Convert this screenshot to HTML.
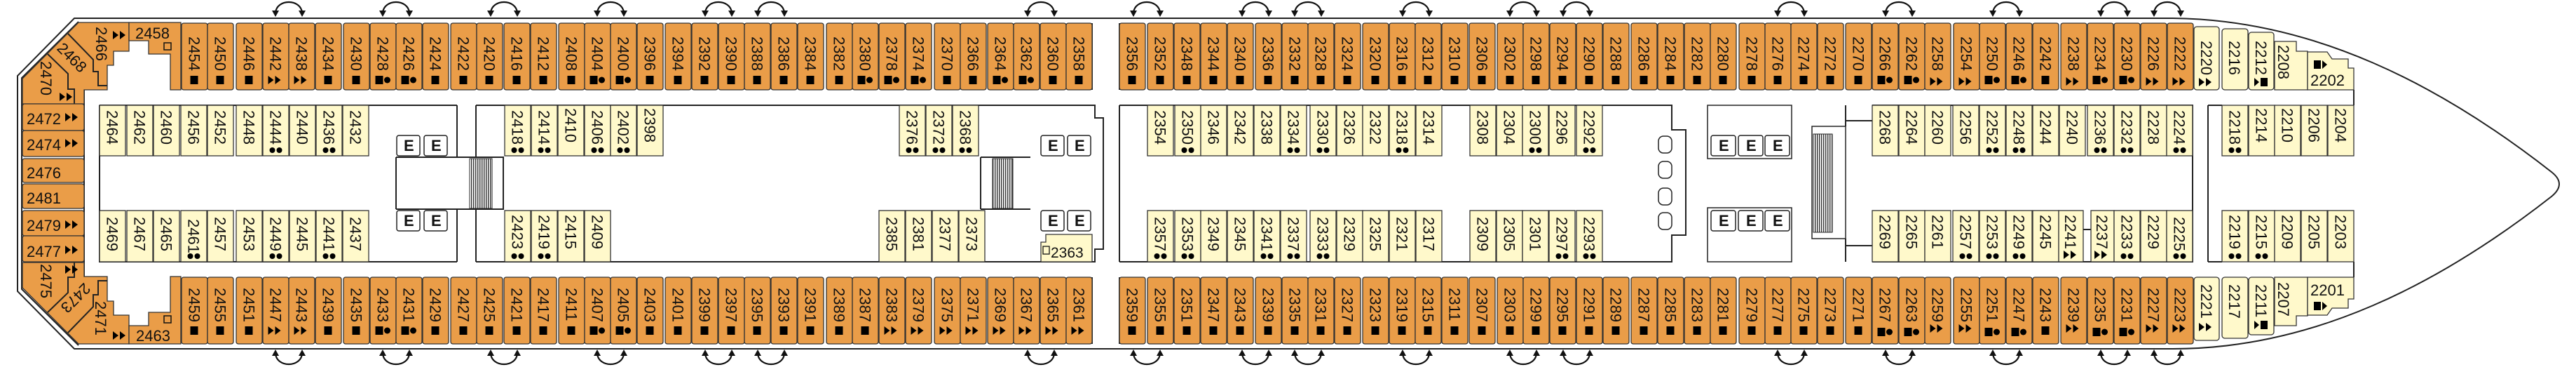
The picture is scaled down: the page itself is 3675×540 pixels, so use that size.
<!DOCTYPE html>
<html><head><meta charset="utf-8"><style>
html,body{margin:0;padding:0;background:#fff;}
svg{display:block;}
text{font-family:"Liberation Sans","DejaVu Sans",sans-serif;font-size:22px;fill:#111;}
.o{fill:#EA9D48;stroke:#333;stroke-width:1.3;}
.y{fill:#FFF9CB;stroke:#333;stroke-width:1.3;}
.ln{fill:none;stroke:#222;stroke-width:2;}
.eb{fill:#fff;stroke:#222;stroke-width:1.5;}
</style></head><body>
<svg width="3675" height="540" viewBox="0 0 3675 540" xmlns="http://www.w3.org/2000/svg">
<defs>
<rect id="ot" class="o" x="0" y="33" width="37" height="95" rx="3"/>
<rect id="ob" class="o" x="0" y="395" width="37" height="95" rx="3"/>
<rect id="yt" class="y" x="0" y="150" width="37" height="72"/>
<rect id="yb" class="y" x="0" y="300" width="37" height="73"/>
<g id="s"><rect x="-6" y="-6" width="11" height="12"/></g>
<g id="sd"><rect x="-11" y="-6" width="11" height="12"/><circle cx="6" cy="0" r="4.5"/></g>
<g id="t"><polygon points="-11,-6 -3,0 -11,6"/><polygon points="-1,-6 7,0 -1,6"/></g>
<g id="d"><circle cx="-5" cy="0" r="4"/><circle cx="5" cy="0" r="4"/></g>
<g id="ts"><polygon points="-10,-6 -3,0 -10,6"/><rect x="-1" y="-6" width="10" height="12"/></g>
<g id="st"><rect x="-9" y="-6" width="10" height="12"/><polygon points="3,-6 10,0 3,6"/></g>
<g id="aT"><path d="M-19,18 C-17,-2 17,-2 19,18" fill="none" stroke="#111" stroke-width="2.2"/><polygon points="-24,15 -14,15 -19,24"/><polygon points="14,15 24,15 19,24"/></g>
<pattern id="hatch" width="3" height="10" patternUnits="userSpaceOnUse"><rect width="3" height="10" fill="#fff"/><rect width="1.4" height="10" fill="#333"/></pattern>
</defs>

<!-- hull -->
<path class="ln" stroke-width="2.5" d="M3100,26 H106 L25,108 V415 L106,497 H3100"/>
<path class="ln" stroke-width="2.5" d="M3100,26 C3300,28 3480,120 3640,245 Q3662,262 3640,280 C3480,405 3300,497 3100,497"/>
<path class="ln" stroke-width="1" d="M112,31 L31,111 V412 L112,492"/>

<!-- connecting arrows -->
<g fill="#111">
<use href="#aT" transform="translate(412,0)"/><use href="#aT" transform="translate(565,0)"/><use href="#aT" transform="translate(719,0)"/><use href="#aT" transform="translate(871,0)"/><use href="#aT" transform="translate(1025,0)"/><use href="#aT" transform="translate(1100,0)"/><use href="#aT" transform="translate(1485,0)"/><use href="#aT" transform="translate(1636,0)"/><use href="#aT" transform="translate(1791,0)"/><use href="#aT" transform="translate(1866,0)"/><use href="#aT" transform="translate(2020,0)"/><use href="#aT" transform="translate(2173,0)"/><use href="#aT" transform="translate(2249,0)"/><use href="#aT" transform="translate(2555,0)"/><use href="#aT" transform="translate(2709,0)"/><use href="#aT" transform="translate(2862,0)"/><use href="#aT" transform="translate(3016,0)"/><use href="#aT" transform="translate(3092,0)"/>
<use href="#aT" transform="translate(412,522) scale(1,-1)"/><use href="#aT" transform="translate(565,522) scale(1,-1)"/><use href="#aT" transform="translate(719,522) scale(1,-1)"/><use href="#aT" transform="translate(871,522) scale(1,-1)"/><use href="#aT" transform="translate(1025,522) scale(1,-1)"/><use href="#aT" transform="translate(1100,522) scale(1,-1)"/><use href="#aT" transform="translate(1485,522) scale(1,-1)"/><use href="#aT" transform="translate(1636,522) scale(1,-1)"/><use href="#aT" transform="translate(1791,522) scale(1,-1)"/><use href="#aT" transform="translate(1866,522) scale(1,-1)"/><use href="#aT" transform="translate(2020,522) scale(1,-1)"/><use href="#aT" transform="translate(2173,522) scale(1,-1)"/><use href="#aT" transform="translate(2249,522) scale(1,-1)"/><use href="#aT" transform="translate(2555,522) scale(1,-1)"/><use href="#aT" transform="translate(2709,522) scale(1,-1)"/><use href="#aT" transform="translate(2862,522) scale(1,-1)"/><use href="#aT" transform="translate(3016,522) scale(1,-1)"/><use href="#aT" transform="translate(3092,522) scale(1,-1)"/>
</g>

<!-- stair passage lines top/bottom -->
<path class="ln" stroke-width="1.3" d="M1558,33 V128 M1597,33 V128 M1558,395 V490 M1597,395 V490"/>

<!-- interior walls -->
<path class="ln" d="M120,128 V395 M142,150 H652 M142,150 V373 H652 M652,150 V224 M652,298 V373 M565,224 H718 M565,298 H718 M565,224 V298 M679,150 V224 M679,298 V373 M679,150 H1400 M679,373 H1400 M700,224 H718 V298 H700 M1399,224 V298 M1399,224 H1470 M1399,298 H1470 M1400,150 H1562 V168 H1574 V355 H1562 V373 H1400 M1597,150 V373 M1597,150 H2385 V185 H2405 V335 H2385 V373 H1597 M2633,150 V180 M2633,340 V373 M2633,172 H2671 M2633,350 H2671 M2671,150 H3128 V373 H2671 M3150,150 V373 M3150,150 H3170 M3150,373 H3170 M3358,128 V150 M3358,373 V395"/>
<rect class="eb" x="2436" y="150" width="120" height="76"/>
<rect class="eb" x="2436" y="296" width="120" height="77"/>
<rect class="eb" x="2585" y="180" width="48" height="160"/>
<rect x="670" y="226" width="32" height="71" fill="url(#hatch)" stroke="#222"/>
<rect x="1416" y="226" width="29" height="71" fill="url(#hatch)" stroke="#222"/>
<rect x="2587" y="191" width="27" height="140" fill="url(#hatch)" stroke="#222"/>
<!-- toilets -->
<g class="eb"><rect x="2366" y="194" width="19" height="24" rx="7"/><rect x="2366" y="230" width="19" height="24" rx="7"/><rect x="2366" y="268" width="19" height="24" rx="7"/><rect x="2366" y="303" width="19" height="24" rx="7"/></g>
<!-- elevators -->
<g>
<rect class="eb" x="566" y="193" width="33" height="29" rx="3"/><rect class="eb" x="605" y="193" width="33" height="29" rx="3"/><rect class="eb" x="566" y="300" width="33" height="29" rx="3"/><rect class="eb" x="605" y="300" width="33" height="29" rx="3"/>
<rect class="eb" x="1485" y="193" width="33" height="29" rx="3"/><rect class="eb" x="1523" y="193" width="33" height="29" rx="3"/><rect class="eb" x="1485" y="300" width="33" height="29" rx="3"/><rect class="eb" x="1523" y="300" width="33" height="29" rx="3"/>
<rect class="eb" x="2441" y="193" width="35" height="29" rx="3"/><rect class="eb" x="2480" y="193" width="35" height="29" rx="3"/><rect class="eb" x="2518" y="193" width="35" height="29" rx="3"/><rect class="eb" x="2441" y="300" width="35" height="29" rx="3"/><rect class="eb" x="2480" y="300" width="35" height="29" rx="3"/><rect class="eb" x="2518" y="300" width="35" height="29" rx="3"/>
</g>
<g style="font-size:18px;font-weight:bold">
<text x="576" y="215">E</text><text x="615" y="215">E</text><text x="576" y="322">E</text><text x="615" y="322">E</text>
<text x="1495" y="215">E</text><text x="1533" y="215">E</text><text x="1495" y="322">E</text><text x="1533" y="322">E</text>
<text x="2452" y="215">E</text><text x="2491" y="215">E</text><text x="2529" y="215">E</text><text x="2452" y="322">E</text><text x="2491" y="322">E</text><text x="2529" y="322">E</text>
</g>

<!-- aft corner top -->
<g>
<path class="o" d="M32,148 L32,112 L112,32 L184,32 L184,73 L162,73 L162,93 L153,93 L153,128 L120,128 L120,148 Z"/>
<path class="o" d="M184,32 L258,32 L258,128 L243,128 L243,77 L212,77 L212,58 L184,58 Z"/>
<path class="ln" stroke-width="1.3" d="M68,77 L97,105 L97,127 L106,127 L106,148 M97,48 L133,85 L133,102 L140,102 L140,122 L153,122"/>
</g>
<g transform="translate(0,522) scale(1,-1)">
<path class="o" d="M32,148 L32,112 L112,32 L184,32 L184,73 L162,73 L162,93 L153,93 L153,128 L120,128 L120,148 Z"/>
<path class="o" d="M184,32 L258,32 L258,128 L243,128 L243,77 L212,77 L212,58 L184,58 Z"/>
<path class="ln" stroke-width="1.3" d="M68,77 L97,105 L97,127 L106,127 L106,148 M97,48 L133,85 L133,102 L140,102 L140,122 L153,122"/>
</g>
<text transform="translate(58 87)rotate(90)">2470</text><use href="#t" x="96" y="138"/>
<text transform="translate(80 70)rotate(45)">2468</text>
<text transform="translate(137 38)rotate(90)">2466</text><use href="#t" x="172" y="50"/>
<text x="193" y="55">2458</text><rect x="234" y="61" width="10" height="10" fill="none" stroke="#111" stroke-width="1.5"/>
<text transform="translate(58 376)rotate(90)">2475</text><use href="#t" x="104" y="384"/>
<text transform="translate(120 402)rotate(135)">2473</text>
<text transform="translate(136 429)rotate(90)">2471</text><use href="#t" x="172" y="478"/>
<text x="194" y="486">2463</text><rect x="234" y="450" width="10" height="10" fill="none" stroke="#111" stroke-width="1.5"/>

<!-- left column -->
<rect class="o" x="32" y="148" width="88" height="38" rx="3"/><rect class="o" x="32" y="186" width="88" height="37" rx="3"/><rect class="o" x="32" y="226" width="88" height="34" rx="3"/><rect class="o" x="32" y="262" width="88" height="35" rx="3"/><rect class="o" x="32" y="300" width="88" height="36" rx="3"/><rect class="o" x="32" y="336" width="88" height="37" rx="3"/>
<text x="38" y="177">2472</text><use href="#t" x="104" y="167"/>
<text x="38" y="214">2474</text><use href="#t" x="104" y="204"/>
<text x="38" y="254">2476</text>
<text x="38" y="290">2481</text>
<text x="38" y="329">2479</text><use href="#t" x="104" y="320"/>
<text x="38" y="366">2477</text><use href="#t" x="104" y="356"/>

<!-- TOP ORANGE -->
<g transform="translate(259)"><use href="#ot"/><text transform="translate(10.5 52)rotate(90)">2454</text><use href="#s" x="18.5" y="114"/></g>
<g transform="translate(296)"><use href="#ot"/><text transform="translate(10.5 52)rotate(90)">2450</text><use href="#s" x="18.5" y="114"/></g>
<g transform="translate(337)"><use href="#ot"/><text transform="translate(10.5 52)rotate(90)">2446</text><use href="#s" x="18.5" y="114"/></g>
<g transform="translate(375)"><use href="#ot"/><text transform="translate(10.5 52)rotate(90)">2442</text><use href="#t" x="18.5" y="114"/></g>
<g transform="translate(412)"><use href="#ot"/><text transform="translate(10.5 52)rotate(90)">2438</text><use href="#t" x="18.5" y="114"/></g>
<g transform="translate(450)"><use href="#ot"/><text transform="translate(10.5 52)rotate(90)">2434</text><use href="#s" x="18.5" y="114"/></g>
<g transform="translate(490)"><use href="#ot"/><text transform="translate(10.5 52)rotate(90)">2430</text><use href="#s" x="18.5" y="114"/></g>
<g transform="translate(528)"><use href="#ot"/><text transform="translate(10.5 52)rotate(90)">2428</text><use href="#sd" x="18.5" y="114"/></g>
<g transform="translate(565)"><use href="#ot"/><text transform="translate(10.5 52)rotate(90)">2426</text><use href="#sd" x="18.5" y="114"/></g>
<g transform="translate(603)"><use href="#ot"/><text transform="translate(10.5 52)rotate(90)">2424</text><use href="#s" x="18.5" y="114"/></g>
<g transform="translate(643)"><use href="#ot"/><text transform="translate(10.5 52)rotate(90)">2422</text><use href="#s" x="18.5" y="114"/></g>
<g transform="translate(680)"><use href="#ot"/><text transform="translate(10.5 52)rotate(90)">2420</text><use href="#s" x="18.5" y="114"/></g>
<g transform="translate(719)"><use href="#ot"/><text transform="translate(10.5 52)rotate(90)">2416</text><use href="#s" x="18.5" y="114"/></g>
<g transform="translate(757)"><use href="#ot"/><text transform="translate(10.5 52)rotate(90)">2412</text><use href="#s" x="18.5" y="114"/></g>
<g transform="translate(797)"><use href="#ot"/><text transform="translate(10.5 52)rotate(90)">2408</text><use href="#s" x="18.5" y="114"/></g>
<g transform="translate(834)"><use href="#ot"/><text transform="translate(10.5 52)rotate(90)">2404</text><use href="#sd" x="18.5" y="114"/></g>
<g transform="translate(871)"><use href="#ot"/><text transform="translate(10.5 52)rotate(90)">2400</text><use href="#sd" x="18.5" y="114"/></g>
<g transform="translate(909)"><use href="#ot"/><text transform="translate(10.5 52)rotate(90)">2396</text><use href="#s" x="18.5" y="114"/></g>
<g transform="translate(949)"><use href="#ot"/><text transform="translate(10.5 52)rotate(90)">2394</text><use href="#s" x="18.5" y="114"/></g>
<g transform="translate(987)"><use href="#ot"/><text transform="translate(10.5 52)rotate(90)">2392</text><use href="#s" x="18.5" y="114"/></g>
<g transform="translate(1025)"><use href="#ot"/><text transform="translate(10.5 52)rotate(90)">2390</text><use href="#s" x="18.5" y="114"/></g>
<g transform="translate(1062)"><use href="#ot"/><text transform="translate(10.5 52)rotate(90)">2388</text><use href="#s" x="18.5" y="114"/></g>
<g transform="translate(1100)"><use href="#ot"/><text transform="translate(10.5 52)rotate(90)">2386</text><use href="#s" x="18.5" y="114"/></g>
<g transform="translate(1138)"><use href="#ot"/><text transform="translate(10.5 52)rotate(90)">2384</text><use href="#s" x="18.5" y="114"/></g>
<g transform="translate(1179)"><use href="#ot"/><text transform="translate(10.5 52)rotate(90)">2382</text><use href="#s" x="18.5" y="114"/></g>
<g transform="translate(1216)"><use href="#ot"/><text transform="translate(10.5 52)rotate(90)">2380</text><use href="#sd" x="18.5" y="114"/></g>
<g transform="translate(1254)"><use href="#ot"/><text transform="translate(10.5 52)rotate(90)">2378</text><use href="#sd" x="18.5" y="114"/></g>
<g transform="translate(1292)"><use href="#ot"/><text transform="translate(10.5 52)rotate(90)">2374</text><use href="#sd" x="18.5" y="114"/></g>
<g transform="translate(1333)"><use href="#ot"/><text transform="translate(10.5 52)rotate(90)">2370</text><use href="#s" x="18.5" y="114"/></g>
<g transform="translate(1370)"><use href="#ot"/><text transform="translate(10.5 52)rotate(90)">2366</text><use href="#s" x="18.5" y="114"/></g>
<g transform="translate(1409)"><use href="#ot"/><text transform="translate(10.5 52)rotate(90)">2364</text><use href="#sd" x="18.5" y="114"/></g>
<g transform="translate(1446)"><use href="#ot"/><text transform="translate(10.5 52)rotate(90)">2362</text><use href="#sd" x="18.5" y="114"/></g>
<g transform="translate(1484)"><use href="#ot"/><text transform="translate(10.5 52)rotate(90)">2360</text><use href="#s" x="18.5" y="114"/></g>
<g transform="translate(1521)"><use href="#ot"/><text transform="translate(10.5 52)rotate(90)">2358</text><use href="#s" x="18.5" y="114"/></g>
<g transform="translate(1597)"><use href="#ot"/><text transform="translate(10.5 52)rotate(90)">2356</text><use href="#s" x="18.5" y="114"/></g>
<g transform="translate(1637)"><use href="#ot"/><text transform="translate(10.5 52)rotate(90)">2352</text><use href="#s" x="18.5" y="114"/></g>
<g transform="translate(1675)"><use href="#ot"/><text transform="translate(10.5 52)rotate(90)">2348</text><use href="#s" x="18.5" y="114"/></g>
<g transform="translate(1713)"><use href="#ot"/><text transform="translate(10.5 52)rotate(90)">2344</text><use href="#s" x="18.5" y="114"/></g>
<g transform="translate(1751)"><use href="#ot"/><text transform="translate(10.5 52)rotate(90)">2340</text><use href="#s" x="18.5" y="114"/></g>
<g transform="translate(1791)"><use href="#ot"/><text transform="translate(10.5 52)rotate(90)">2336</text><use href="#s" x="18.5" y="114"/></g>
<g transform="translate(1829)"><use href="#ot"/><text transform="translate(10.5 52)rotate(90)">2332</text><use href="#s" x="18.5" y="114"/></g>
<g transform="translate(1866)"><use href="#ot"/><text transform="translate(10.5 52)rotate(90)">2328</text><use href="#s" x="18.5" y="114"/></g>
<g transform="translate(1904)"><use href="#ot"/><text transform="translate(10.5 52)rotate(90)">2324</text><use href="#s" x="18.5" y="114"/></g>
<g transform="translate(1944)"><use href="#ot"/><text transform="translate(10.5 52)rotate(90)">2320</text><use href="#s" x="18.5" y="114"/></g>
<g transform="translate(1982)"><use href="#ot"/><text transform="translate(10.5 52)rotate(90)">2316</text><use href="#s" x="18.5" y="114"/></g>
<g transform="translate(2019)"><use href="#ot"/><text transform="translate(10.5 52)rotate(90)">2312</text><use href="#s" x="18.5" y="114"/></g>
<g transform="translate(2057)"><use href="#ot"/><text transform="translate(10.5 52)rotate(90)">2310</text><use href="#s" x="18.5" y="114"/></g>
<g transform="translate(2096)"><use href="#ot"/><text transform="translate(10.5 52)rotate(90)">2306</text><use href="#s" x="18.5" y="114"/></g>
<g transform="translate(2136)"><use href="#ot"/><text transform="translate(10.5 52)rotate(90)">2302</text><use href="#s" x="18.5" y="114"/></g>
<g transform="translate(2173)"><use href="#ot"/><text transform="translate(10.5 52)rotate(90)">2298</text><use href="#s" x="18.5" y="114"/></g>
<g transform="translate(2211)"><use href="#ot"/><text transform="translate(10.5 52)rotate(90)">2294</text><use href="#s" x="18.5" y="114"/></g>
<g transform="translate(2249)"><use href="#ot"/><text transform="translate(10.5 52)rotate(90)">2290</text><use href="#s" x="18.5" y="114"/></g>
<g transform="translate(2287)"><use href="#ot"/><text transform="translate(10.5 52)rotate(90)">2288</text><use href="#s" x="18.5" y="114"/></g>
<g transform="translate(2327)"><use href="#ot"/><text transform="translate(10.5 52)rotate(90)">2286</text><use href="#s" x="18.5" y="114"/></g>
<g transform="translate(2365)"><use href="#ot"/><text transform="translate(10.5 52)rotate(90)">2284</text><use href="#s" x="18.5" y="114"/></g>
<g transform="translate(2403)"><use href="#ot"/><text transform="translate(10.5 52)rotate(90)">2282</text><use href="#s" x="18.5" y="114"/></g>
<g transform="translate(2440)"><use href="#ot"/><text transform="translate(10.5 52)rotate(90)">2280</text><use href="#s" x="18.5" y="114"/></g>
<g transform="translate(2481)"><use href="#ot"/><text transform="translate(10.5 52)rotate(90)">2278</text><use href="#s" x="18.5" y="114"/></g>
<g transform="translate(2518)"><use href="#ot"/><text transform="translate(10.5 52)rotate(90)">2276</text><use href="#s" x="18.5" y="114"/></g>
<g transform="translate(2555)"><use href="#ot"/><text transform="translate(10.5 52)rotate(90)">2274</text><use href="#s" x="18.5" y="114"/></g>
<g transform="translate(2593)"><use href="#ot"/><text transform="translate(10.5 52)rotate(90)">2272</text><use href="#s" x="18.5" y="114"/></g>
<g transform="translate(2633)"><use href="#ot"/><text transform="translate(10.5 52)rotate(90)">2270</text><use href="#s" x="18.5" y="114"/></g>
<g transform="translate(2671)"><use href="#ot"/><text transform="translate(10.5 52)rotate(90)">2266</text><use href="#sd" x="18.5" y="114"/></g>
<g transform="translate(2709)"><use href="#ot"/><text transform="translate(10.5 52)rotate(90)">2262</text><use href="#sd" x="18.5" y="114"/></g>
<g transform="translate(2746)"><use href="#ot"/><text transform="translate(10.5 52)rotate(90)">2258</text><use href="#t" x="18.5" y="116"/></g>
<g transform="translate(2787)"><use href="#ot"/><text transform="translate(10.5 52)rotate(90)">2254</text><use href="#t" x="18.5" y="116"/></g>
<g transform="translate(2824)"><use href="#ot"/><text transform="translate(10.5 52)rotate(90)">2250</text><use href="#sd" x="18.5" y="114"/></g>
<g transform="translate(2862)"><use href="#ot"/><text transform="translate(10.5 52)rotate(90)">2246</text><use href="#sd" x="18.5" y="114"/></g>
<g transform="translate(2900)"><use href="#ot"/><text transform="translate(10.5 52)rotate(90)">2242</text><use href="#s" x="18.5" y="114"/></g>
<g transform="translate(2940)"><use href="#ot"/><text transform="translate(10.5 52)rotate(90)">2238</text><use href="#t" x="18.5" y="116"/></g>
<g transform="translate(2978)"><use href="#ot"/><text transform="translate(10.5 52)rotate(90)">2234</text><use href="#sd" x="18.5" y="114"/></g>
<g transform="translate(3016)"><use href="#ot"/><text transform="translate(10.5 52)rotate(90)">2230</text><use href="#sd" x="18.5" y="114"/></g>
<g transform="translate(3054)"><use href="#ot"/><text transform="translate(10.5 52)rotate(90)">2226</text><use href="#t" x="18.5" y="116"/></g>
<g transform="translate(3092)"><use href="#ot"/><text transform="translate(10.5 52)rotate(90)">2222</text><use href="#t" x="18.5" y="116"/></g>

<!-- BOTTOM ORANGE -->
<g transform="translate(259)"><use href="#ob"/><text transform="translate(10.5 410)rotate(90)">2459</text><use href="#s" x="18.5" y="471"/></g>
<g transform="translate(296)"><use href="#ob"/><text transform="translate(10.5 410)rotate(90)">2455</text><use href="#s" x="18.5" y="471"/></g>
<g transform="translate(337)"><use href="#ob"/><text transform="translate(10.5 410)rotate(90)">2451</text><use href="#s" x="18.5" y="471"/></g>
<g transform="translate(375)"><use href="#ob"/><text transform="translate(10.5 410)rotate(90)">2447</text><use href="#t" x="18.5" y="471"/></g>
<g transform="translate(412)"><use href="#ob"/><text transform="translate(10.5 410)rotate(90)">2443</text><use href="#t" x="18.5" y="471"/></g>
<g transform="translate(450)"><use href="#ob"/><text transform="translate(10.5 410)rotate(90)">2439</text><use href="#s" x="18.5" y="471"/></g>
<g transform="translate(490)"><use href="#ob"/><text transform="translate(10.5 410)rotate(90)">2435</text><use href="#s" x="18.5" y="471"/></g>
<g transform="translate(528)"><use href="#ob"/><text transform="translate(10.5 410)rotate(90)">2433</text><use href="#sd" x="18.5" y="471"/></g>
<g transform="translate(565)"><use href="#ob"/><text transform="translate(10.5 410)rotate(90)">2431</text><use href="#sd" x="18.5" y="471"/></g>
<g transform="translate(603)"><use href="#ob"/><text transform="translate(10.5 410)rotate(90)">2429</text><use href="#s" x="18.5" y="471"/></g>
<g transform="translate(643)"><use href="#ob"/><text transform="translate(10.5 410)rotate(90)">2427</text><use href="#s" x="18.5" y="471"/></g>
<g transform="translate(680)"><use href="#ob"/><text transform="translate(10.5 410)rotate(90)">2425</text><use href="#s" x="18.5" y="471"/></g>
<g transform="translate(719)"><use href="#ob"/><text transform="translate(10.5 410)rotate(90)">2421</text><use href="#s" x="18.5" y="471"/></g>
<g transform="translate(757)"><use href="#ob"/><text transform="translate(10.5 410)rotate(90)">2417</text><use href="#s" x="18.5" y="471"/></g>
<g transform="translate(797)"><use href="#ob"/><text transform="translate(10.5 410)rotate(90)">2411</text><use href="#s" x="18.5" y="471"/></g>
<g transform="translate(834)"><use href="#ob"/><text transform="translate(10.5 410)rotate(90)">2407</text><use href="#sd" x="18.5" y="471"/></g>
<g transform="translate(871)"><use href="#ob"/><text transform="translate(10.5 410)rotate(90)">2405</text><use href="#sd" x="18.5" y="471"/></g>
<g transform="translate(909)"><use href="#ob"/><text transform="translate(10.5 410)rotate(90)">2403</text><use href="#s" x="18.5" y="471"/></g>
<g transform="translate(949)"><use href="#ob"/><text transform="translate(10.5 410)rotate(90)">2401</text><use href="#s" x="18.5" y="471"/></g>
<g transform="translate(987)"><use href="#ob"/><text transform="translate(10.5 410)rotate(90)">2399</text><use href="#s" x="18.5" y="471"/></g>
<g transform="translate(1025)"><use href="#ob"/><text transform="translate(10.5 410)rotate(90)">2397</text><use href="#s" x="18.5" y="471"/></g>
<g transform="translate(1062)"><use href="#ob"/><text transform="translate(10.5 410)rotate(90)">2395</text><use href="#s" x="18.5" y="471"/></g>
<g transform="translate(1100)"><use href="#ob"/><text transform="translate(10.5 410)rotate(90)">2393</text><use href="#s" x="18.5" y="471"/></g>
<g transform="translate(1138)"><use href="#ob"/><text transform="translate(10.5 410)rotate(90)">2391</text><use href="#s" x="18.5" y="471"/></g>
<g transform="translate(1179)"><use href="#ob"/><text transform="translate(10.5 410)rotate(90)">2389</text><use href="#s" x="18.5" y="471"/></g>
<g transform="translate(1216)"><use href="#ob"/><text transform="translate(10.5 410)rotate(90)">2387</text><use href="#s" x="18.5" y="471"/></g>
<g transform="translate(1254)"><use href="#ob"/><text transform="translate(10.5 410)rotate(90)">2383</text><use href="#t" x="18.5" y="471"/></g>
<g transform="translate(1292)"><use href="#ob"/><text transform="translate(10.5 410)rotate(90)">2379</text><use href="#t" x="18.5" y="471"/></g>
<g transform="translate(1333)"><use href="#ob"/><text transform="translate(10.5 410)rotate(90)">2375</text><use href="#t" x="18.5" y="471"/></g>
<g transform="translate(1370)"><use href="#ob"/><text transform="translate(10.5 410)rotate(90)">2371</text><use href="#t" x="18.5" y="471"/></g>
<g transform="translate(1409)"><use href="#ob"/><text transform="translate(10.5 410)rotate(90)">2369</text><use href="#t" x="18.5" y="471"/></g>
<g transform="translate(1446)"><use href="#ob"/><text transform="translate(10.5 410)rotate(90)">2367</text><use href="#t" x="18.5" y="471"/></g>
<g transform="translate(1484)"><use href="#ob"/><text transform="translate(10.5 410)rotate(90)">2365</text><use href="#t" x="18.5" y="471"/></g>
<g transform="translate(1521)"><use href="#ob"/><text transform="translate(10.5 410)rotate(90)">2361</text><use href="#t" x="18.5" y="471"/></g>
<g transform="translate(1597)"><use href="#ob"/><text transform="translate(10.5 410)rotate(90)">2359</text><use href="#s" x="18.5" y="471"/></g>
<g transform="translate(1637)"><use href="#ob"/><text transform="translate(10.5 410)rotate(90)">2355</text><use href="#s" x="18.5" y="471"/></g>
<g transform="translate(1675)"><use href="#ob"/><text transform="translate(10.5 410)rotate(90)">2351</text><use href="#s" x="18.5" y="471"/></g>
<g transform="translate(1713)"><use href="#ob"/><text transform="translate(10.5 410)rotate(90)">2347</text><use href="#s" x="18.5" y="471"/></g>
<g transform="translate(1751)"><use href="#ob"/><text transform="translate(10.5 410)rotate(90)">2343</text><use href="#s" x="18.5" y="471"/></g>
<g transform="translate(1791)"><use href="#ob"/><text transform="translate(10.5 410)rotate(90)">2339</text><use href="#s" x="18.5" y="471"/></g>
<g transform="translate(1829)"><use href="#ob"/><text transform="translate(10.5 410)rotate(90)">2335</text><use href="#s" x="18.5" y="471"/></g>
<g transform="translate(1866)"><use href="#ob"/><text transform="translate(10.5 410)rotate(90)">2331</text><use href="#s" x="18.5" y="471"/></g>
<g transform="translate(1904)"><use href="#ob"/><text transform="translate(10.5 410)rotate(90)">2327</text><use href="#s" x="18.5" y="471"/></g>
<g transform="translate(1944)"><use href="#ob"/><text transform="translate(10.5 410)rotate(90)">2323</text><use href="#s" x="18.5" y="471"/></g>
<g transform="translate(1982)"><use href="#ob"/><text transform="translate(10.5 410)rotate(90)">2319</text><use href="#s" x="18.5" y="471"/></g>
<g transform="translate(2019)"><use href="#ob"/><text transform="translate(10.5 410)rotate(90)">2315</text><use href="#s" x="18.5" y="471"/></g>
<g transform="translate(2057)"><use href="#ob"/><text transform="translate(10.5 410)rotate(90)">2311</text><use href="#s" x="18.5" y="471"/></g>
<g transform="translate(2096)"><use href="#ob"/><text transform="translate(10.5 410)rotate(90)">2307</text><use href="#s" x="18.5" y="471"/></g>
<g transform="translate(2136)"><use href="#ob"/><text transform="translate(10.5 410)rotate(90)">2303</text><use href="#s" x="18.5" y="471"/></g>
<g transform="translate(2173)"><use href="#ob"/><text transform="translate(10.5 410)rotate(90)">2299</text><use href="#s" x="18.5" y="471"/></g>
<g transform="translate(2211)"><use href="#ob"/><text transform="translate(10.5 410)rotate(90)">2295</text><use href="#s" x="18.5" y="471"/></g>
<g transform="translate(2249)"><use href="#ob"/><text transform="translate(10.5 410)rotate(90)">2291</text><use href="#s" x="18.5" y="471"/></g>
<g transform="translate(2287)"><use href="#ob"/><text transform="translate(10.5 410)rotate(90)">2289</text><use href="#s" x="18.5" y="471"/></g>
<g transform="translate(2327)"><use href="#ob"/><text transform="translate(10.5 410)rotate(90)">2287</text><use href="#s" x="18.5" y="471"/></g>
<g transform="translate(2365)"><use href="#ob"/><text transform="translate(10.5 410)rotate(90)">2285</text><use href="#s" x="18.5" y="471"/></g>
<g transform="translate(2403)"><use href="#ob"/><text transform="translate(10.5 410)rotate(90)">2283</text><use href="#s" x="18.5" y="471"/></g>
<g transform="translate(2440)"><use href="#ob"/><text transform="translate(10.5 410)rotate(90)">2281</text><use href="#s" x="18.5" y="471"/></g>
<g transform="translate(2481)"><use href="#ob"/><text transform="translate(10.5 410)rotate(90)">2279</text><use href="#s" x="18.5" y="471"/></g>
<g transform="translate(2518)"><use href="#ob"/><text transform="translate(10.5 410)rotate(90)">2277</text><use href="#s" x="18.5" y="471"/></g>
<g transform="translate(2555)"><use href="#ob"/><text transform="translate(10.5 410)rotate(90)">2275</text><use href="#s" x="18.5" y="471"/></g>
<g transform="translate(2593)"><use href="#ob"/><text transform="translate(10.5 410)rotate(90)">2273</text><use href="#s" x="18.5" y="471"/></g>
<g transform="translate(2633)"><use href="#ob"/><text transform="translate(10.5 410)rotate(90)">2271</text><use href="#s" x="18.5" y="471"/></g>
<g transform="translate(2671)"><use href="#ob"/><text transform="translate(10.5 410)rotate(90)">2267</text><use href="#sd" x="18.5" y="473"/></g>
<g transform="translate(2709)"><use href="#ob"/><text transform="translate(10.5 410)rotate(90)">2263</text><use href="#sd" x="18.5" y="473"/></g>
<g transform="translate(2746)"><use href="#ob"/><text transform="translate(10.5 410)rotate(90)">2259</text><use href="#t" x="18.5" y="468"/></g>
<g transform="translate(2787)"><use href="#ob"/><text transform="translate(10.5 410)rotate(90)">2255</text><use href="#t" x="18.5" y="468"/></g>
<g transform="translate(2824)"><use href="#ob"/><text transform="translate(10.5 410)rotate(90)">2251</text><use href="#sd" x="18.5" y="473"/></g>
<g transform="translate(2862)"><use href="#ob"/><text transform="translate(10.5 410)rotate(90)">2247</text><use href="#sd" x="18.5" y="473"/></g>
<g transform="translate(2900)"><use href="#ob"/><text transform="translate(10.5 410)rotate(90)">2243</text><use href="#s" x="18.5" y="471"/></g>
<g transform="translate(2940)"><use href="#ob"/><text transform="translate(10.5 410)rotate(90)">2239</text><use href="#t" x="18.5" y="468"/></g>
<g transform="translate(2978)"><use href="#ob"/><text transform="translate(10.5 410)rotate(90)">2235</text><use href="#sd" x="18.5" y="473"/></g>
<g transform="translate(3016)"><use href="#ob"/><text transform="translate(10.5 410)rotate(90)">2231</text><use href="#sd" x="18.5" y="473"/></g>
<g transform="translate(3054)"><use href="#ob"/><text transform="translate(10.5 410)rotate(90)">2227</text><use href="#t" x="18.5" y="468"/></g>
<g transform="translate(3092)"><use href="#ob"/><text transform="translate(10.5 410)rotate(90)">2223</text><use href="#t" x="18.5" y="468"/></g>

<!-- forward yellow outer cabins -->
<rect class="y" x="3130" y="38" width="36" height="90" rx="4"/><text transform="translate(3140 58)rotate(90)">2220</text><use href="#t" x="3148" y="117"/>
<rect class="y" x="3170" y="41" width="37" height="87" rx="4"/><text transform="translate(3180 58)rotate(90)">2216</text>
<rect class="y" x="3208" y="46" width="36" height="82" rx="4"/><text transform="translate(3218 58)rotate(90)">2212</text><use href="#ts" x="3226" y="117"/>
<polygon class="y" points="3245,59 3276,59 3276,73 3292,73 3292,128 3245,128"/><text transform="translate(3250 64)rotate(90)">2208</text>
<polygon class="y" points="3292,74 3320,74 3327,84 3350,84 3350,97 3358,97 3358,128 3292,128"/><use href="#st" x="3310" y="92"/><text x="3296" y="122">2202</text>
<rect class="y" x="3130" y="395" width="36" height="90" rx="4"/><text transform="translate(3140 405)rotate(90)">2221</text><use href="#t" x="3148" y="466"/>
<rect class="y" x="3170" y="395" width="37" height="87" rx="4"/><text transform="translate(3180 405)rotate(90)">2217</text>
<rect class="y" x="3208" y="395" width="36" height="82" rx="4"/><text transform="translate(3218 405)rotate(90)">2211</text><use href="#ts" x="3226" y="463"/>
<polygon class="y" points="3245,395 3292,395 3292,450 3276,450 3276,464 3245,464"/><text transform="translate(3250 402)rotate(90)">2207</text>
<polygon class="y" points="3292,395 3358,395 3358,426 3350,426 3350,439 3327,439 3320,449 3292,449"/><text x="3296" y="421">2201</text><use href="#st" x="3310" y="436"/>

<!-- 2363 -->
<polygon class="y" points="1492,334 1558,334 1558,373 1485,373 1485,345 1492,345"/>
<rect x="1488" y="351" width="9" height="11" fill="none" stroke="#111" stroke-width="1.3"/><text x="1499" y="367" style="font-size:21px">2363</text>

<!-- INNER TOP -->
<g transform="translate(142)"><use href="#yt"/><text transform="translate(10.5 157)rotate(90)">2464</text></g>
<g transform="translate(181)"><use href="#yt"/><text transform="translate(10.5 157)rotate(90)">2462</text></g>
<g transform="translate(219)"><use href="#yt"/><text transform="translate(10.5 157)rotate(90)">2460</text></g>
<g transform="translate(258)"><use href="#yt"/><text transform="translate(10.5 157)rotate(90)">2456</text></g>
<g transform="translate(296)"><use href="#yt"/><text transform="translate(10.5 157)rotate(90)">2452</text></g>
<g transform="translate(337)"><use href="#yt"/><text transform="translate(10.5 157)rotate(90)">2448</text></g>
<g transform="translate(375)"><use href="#yt"/><text transform="translate(10.5 157)rotate(90)">2444</text><use href="#d" x="18.5" y="214"/></g>
<g transform="translate(413)"><use href="#yt"/><text transform="translate(10.5 157)rotate(90)">2440</text></g>
<g transform="translate(451)"><use href="#yt"/><text transform="translate(10.5 157)rotate(90)">2436</text><use href="#d" x="18.5" y="214"/></g>
<g transform="translate(489)"><use href="#yt"/><text transform="translate(10.5 157)rotate(90)">2432</text></g>
<g transform="translate(720)"><use href="#yt"/><text transform="translate(10.5 157)rotate(90)">2418</text><use href="#d" x="18.5" y="214"/></g>
<g transform="translate(758)"><use href="#yt"/><text transform="translate(10.5 157)rotate(90)">2414</text><use href="#d" x="18.5" y="214"/></g>
<g transform="translate(796)"><use href="#yt"/><text transform="translate(10.5 154)rotate(90)">2410</text></g>
<g transform="translate(834)"><use href="#yt"/><text transform="translate(10.5 157)rotate(90)">2406</text><use href="#d" x="18.5" y="214"/></g>
<g transform="translate(871)"><use href="#yt"/><text transform="translate(10.5 157)rotate(90)">2402</text><use href="#d" x="18.5" y="214"/></g>
<g transform="translate(909)"><use href="#yt"/><text transform="translate(10.5 154)rotate(90)">2398</text></g>
<g transform="translate(1283)"><use href="#yt"/><text transform="translate(10.5 157)rotate(90)">2376</text><use href="#d" x="18.5" y="214"/></g>
<g transform="translate(1321)"><use href="#yt"/><text transform="translate(10.5 157)rotate(90)">2372</text><use href="#d" x="18.5" y="214"/></g>
<g transform="translate(1359)"><use href="#yt"/><text transform="translate(10.5 157)rotate(90)">2368</text><use href="#d" x="18.5" y="214"/></g>
<g transform="translate(1637)"><use href="#yt"/><text transform="translate(10.5 157)rotate(90)">2354</text></g>
<g transform="translate(1676)"><use href="#yt"/><text transform="translate(10.5 157)rotate(90)">2350</text><use href="#d" x="18.5" y="214"/></g>
<g transform="translate(1713)"><use href="#yt"/><text transform="translate(10.5 157)rotate(90)">2346</text></g>
<g transform="translate(1751)"><use href="#yt"/><text transform="translate(10.5 157)rotate(90)">2342</text></g>
<g transform="translate(1789)"><use href="#yt"/><text transform="translate(10.5 157)rotate(90)">2338</text></g>
<g transform="translate(1827)"><use href="#yt"/><text transform="translate(10.5 157)rotate(90)">2334</text><use href="#d" x="18.5" y="214"/></g>
<g transform="translate(1869)"><use href="#yt"/><text transform="translate(10.5 157)rotate(90)">2330</text><use href="#d" x="18.5" y="214"/></g>
<g transform="translate(1907)"><use href="#yt"/><text transform="translate(10.5 157)rotate(90)">2326</text></g>
<g transform="translate(1944)"><use href="#yt"/><text transform="translate(10.5 157)rotate(90)">2322</text></g>
<g transform="translate(1982)"><use href="#yt"/><text transform="translate(10.5 157)rotate(90)">2318</text><use href="#d" x="18.5" y="214"/></g>
<g transform="translate(2020)"><use href="#yt"/><text transform="translate(10.5 157)rotate(90)">2314</text></g>
<g transform="translate(2097)"><use href="#yt"/><text transform="translate(10.5 157)rotate(90)">2308</text></g>
<g transform="translate(2135)"><use href="#yt"/><text transform="translate(10.5 157)rotate(90)">2304</text></g>
<g transform="translate(2172)"><use href="#yt"/><text transform="translate(10.5 157)rotate(90)">2300</text><use href="#d" x="18.5" y="214"/></g>
<g transform="translate(2210)"><use href="#yt"/><text transform="translate(10.5 157)rotate(90)">2296</text></g>
<g transform="translate(2249)"><use href="#yt"/><text transform="translate(10.5 157)rotate(90)">2292</text><use href="#d" x="18.5" y="214"/></g>
<g transform="translate(2671)"><use href="#yt"/><text transform="translate(10.5 157)rotate(90)">2268</text></g>
<g transform="translate(2709)"><use href="#yt"/><text transform="translate(10.5 157)rotate(90)">2264</text></g>
<g transform="translate(2746)"><use href="#yt"/><text transform="translate(10.5 157)rotate(90)">2260</text></g>
<g transform="translate(2786)"><use href="#yt"/><text transform="translate(10.5 157)rotate(90)">2256</text></g>
<g transform="translate(2824)"><use href="#yt"/><text transform="translate(10.5 157)rotate(90)">2252</text><use href="#d" x="18.5" y="214"/></g>
<g transform="translate(2862)"><use href="#yt"/><text transform="translate(10.5 157)rotate(90)">2248</text><use href="#d" x="18.5" y="214"/></g>
<g transform="translate(2900)"><use href="#yt"/><text transform="translate(10.5 157)rotate(90)">2244</text></g>
<g transform="translate(2938)"><use href="#yt"/><text transform="translate(10.5 157)rotate(90)">2240</text></g>
<g transform="translate(2978)"><use href="#yt"/><text transform="translate(10.5 157)rotate(90)">2236</text><use href="#d" x="18.5" y="214"/></g>
<g transform="translate(3016)"><use href="#yt"/><text transform="translate(10.5 157)rotate(90)">2232</text><use href="#d" x="18.5" y="214"/></g>
<g transform="translate(3054)"><use href="#yt"/><text transform="translate(10.5 157)rotate(90)">2228</text></g>
<g transform="translate(3091)"><use href="#yt"/><text transform="translate(10.5 157)rotate(90)">2224</text><use href="#d" x="18.5" y="214"/></g>
<g transform="translate(3170)"><use href="#yt"/><text transform="translate(10.5 157)rotate(90)">2218</text><use href="#d" x="18.5" y="214"/></g>
<g transform="translate(3208)"><use href="#yt"/><text transform="translate(10.5 154)rotate(90)">2214</text></g>
<g transform="translate(3245)"><use href="#yt"/><text transform="translate(10.5 154)rotate(90)">2210</text></g>
<g transform="translate(3283)"><use href="#yt"/><text transform="translate(10.5 154)rotate(90)">2206</text></g>
<g transform="translate(3321)"><use href="#yt"/><text transform="translate(10.5 154)rotate(90)">2204</text></g>

<!-- INNER BOTTOM -->
<g transform="translate(142)"><use href="#yb"/><text transform="translate(10.5 309)rotate(90)">2469</text></g>
<g transform="translate(181)"><use href="#yb"/><text transform="translate(10.5 309)rotate(90)">2467</text></g>
<g transform="translate(219)"><use href="#yb"/><text transform="translate(10.5 309)rotate(90)">2465</text></g>
<g transform="translate(258)"><use href="#yb"/><text transform="translate(10.5 312)rotate(90)">2461</text><use href="#d" x="18.5" y="365"/></g>
<g transform="translate(296)"><use href="#yb"/><text transform="translate(10.5 309)rotate(90)">2457</text></g>
<g transform="translate(337)"><use href="#yb"/><text transform="translate(10.5 309)rotate(90)">2453</text></g>
<g transform="translate(375)"><use href="#yb"/><text transform="translate(10.5 309)rotate(90)">2449</text><use href="#d" x="18.5" y="365"/></g>
<g transform="translate(413)"><use href="#yb"/><text transform="translate(10.5 309)rotate(90)">2445</text></g>
<g transform="translate(451)"><use href="#yb"/><text transform="translate(10.5 309)rotate(90)">2441</text><use href="#d" x="18.5" y="365"/></g>
<g transform="translate(489)"><use href="#yb"/><text transform="translate(10.5 309)rotate(90)">2437</text></g>
<g transform="translate(720)"><use href="#yb"/><text transform="translate(10.5 306)rotate(90)">2423</text><use href="#d" x="18.5" y="365"/></g>
<g transform="translate(758)"><use href="#yb"/><text transform="translate(10.5 306)rotate(90)">2419</text><use href="#d" x="18.5" y="365"/></g>
<g transform="translate(796)"><use href="#yb"/><text transform="translate(10.5 306)rotate(90)">2415</text></g>
<g transform="translate(834)"><use href="#yb"/><text transform="translate(10.5 306)rotate(90)">2409</text></g>
<g transform="translate(1254)"><use href="#yb"/><text transform="translate(10.5 309)rotate(90)">2385</text></g>
<g transform="translate(1292)"><use href="#yb"/><text transform="translate(10.5 309)rotate(90)">2381</text></g>
<g transform="translate(1330)"><use href="#yb"/><text transform="translate(10.5 309)rotate(90)">2377</text></g>
<g transform="translate(1368)"><use href="#yb"/><text transform="translate(10.5 309)rotate(90)">2373</text></g>
<g transform="translate(1637)"><use href="#yb"/><text transform="translate(10.5 309)rotate(90)">2357</text><use href="#d" x="18.5" y="365"/></g>
<g transform="translate(1676)"><use href="#yb"/><text transform="translate(10.5 309)rotate(90)">2353</text><use href="#d" x="18.5" y="365"/></g>
<g transform="translate(1713)"><use href="#yb"/><text transform="translate(10.5 309)rotate(90)">2349</text></g>
<g transform="translate(1751)"><use href="#yb"/><text transform="translate(10.5 309)rotate(90)">2345</text></g>
<g transform="translate(1789)"><use href="#yb"/><text transform="translate(10.5 309)rotate(90)">2341</text><use href="#d" x="18.5" y="365"/></g>
<g transform="translate(1827)"><use href="#yb"/><text transform="translate(10.5 309)rotate(90)">2337</text><use href="#d" x="18.5" y="365"/></g>
<g transform="translate(1869)"><use href="#yb"/><text transform="translate(10.5 309)rotate(90)">2333</text><use href="#d" x="18.5" y="365"/></g>
<g transform="translate(1907)"><use href="#yb"/><text transform="translate(10.5 309)rotate(90)">2329</text></g>
<g transform="translate(1944)"><use href="#yb"/><text transform="translate(10.5 309)rotate(90)">2325</text></g>
<g transform="translate(1982)"><use href="#yb"/><text transform="translate(10.5 309)rotate(90)">2321</text></g>
<g transform="translate(2020)"><use href="#yb"/><text transform="translate(10.5 309)rotate(90)">2317</text></g>
<g transform="translate(2097)"><use href="#yb"/><text transform="translate(10.5 309)rotate(90)">2309</text></g>
<g transform="translate(2135)"><use href="#yb"/><text transform="translate(10.5 309)rotate(90)">2305</text></g>
<g transform="translate(2172)"><use href="#yb"/><text transform="translate(10.5 309)rotate(90)">2301</text></g>
<g transform="translate(2210)"><use href="#yb"/><text transform="translate(10.5 309)rotate(90)">2297</text><use href="#d" x="18.5" y="365"/></g>
<g transform="translate(2249)"><use href="#yb"/><text transform="translate(10.5 309)rotate(90)">2293</text><use href="#d" x="18.5" y="365"/></g>
<g transform="translate(2671)"><use href="#yb"/><text transform="translate(10.5 306)rotate(90)">2269</text></g>
<g transform="translate(2709)"><use href="#yb"/><text transform="translate(10.5 306)rotate(90)">2265</text></g>
<g transform="translate(2746)"><use href="#yb"/><text transform="translate(10.5 306)rotate(90)">2261</text></g>
<g transform="translate(2786)"><use href="#yb"/><text transform="translate(10.5 306)rotate(90)">2257</text><use href="#d" x="18.5" y="365"/></g>
<g transform="translate(2824)"><use href="#yb"/><text transform="translate(10.5 306)rotate(90)">2253</text><use href="#d" x="18.5" y="365"/></g>
<g transform="translate(2862)"><use href="#yb"/><text transform="translate(10.5 306)rotate(90)">2249</text><use href="#d" x="18.5" y="365"/></g>
<g transform="translate(2900)"><use href="#yb"/><text transform="translate(10.5 306)rotate(90)">2245</text></g>
<rect class="y" x="2937" y="300" width="35" height="73"/><text transform="translate(2946 306)rotate(90)">2241</text><use href="#t" x="2955" y="363"/>
<path class="ln" stroke-width="1.3" d="M2972,327 H2983"/>
<rect class="y" x="2983" y="300" width="33" height="73"/><text transform="translate(2991 306)rotate(90)">2237</text><use href="#t" x="2999" y="363"/>
<g transform="translate(3016)"><use href="#yb"/><text transform="translate(10.5 306)rotate(90)">2233</text><use href="#d" x="18.5" y="365"/></g>
<g transform="translate(3054)"><use href="#yb"/><text transform="translate(10.5 306)rotate(90)">2229</text></g>
<g transform="translate(3091)"><use href="#yb"/><text transform="translate(10.5 309)rotate(90)">2225</text><use href="#d" x="18.5" y="365"/></g>
<g transform="translate(3170)"><use href="#yb"/><text transform="translate(10.5 306)rotate(90)">2219</text><use href="#d" x="18.5" y="365"/></g>
<g transform="translate(3208)"><use href="#yb"/><text transform="translate(10.5 306)rotate(90)">2215</text><use href="#d" x="18.5" y="365"/></g>
<g transform="translate(3245)"><use href="#yb"/><text transform="translate(10.5 306)rotate(90)">2209</text></g>
<g transform="translate(3283)"><use href="#yb"/><text transform="translate(10.5 306)rotate(90)">2205</text></g>
<g transform="translate(3321)"><use href="#yb"/><text transform="translate(10.5 306)rotate(90)">2203</text></g>
</svg>
</body></html>
